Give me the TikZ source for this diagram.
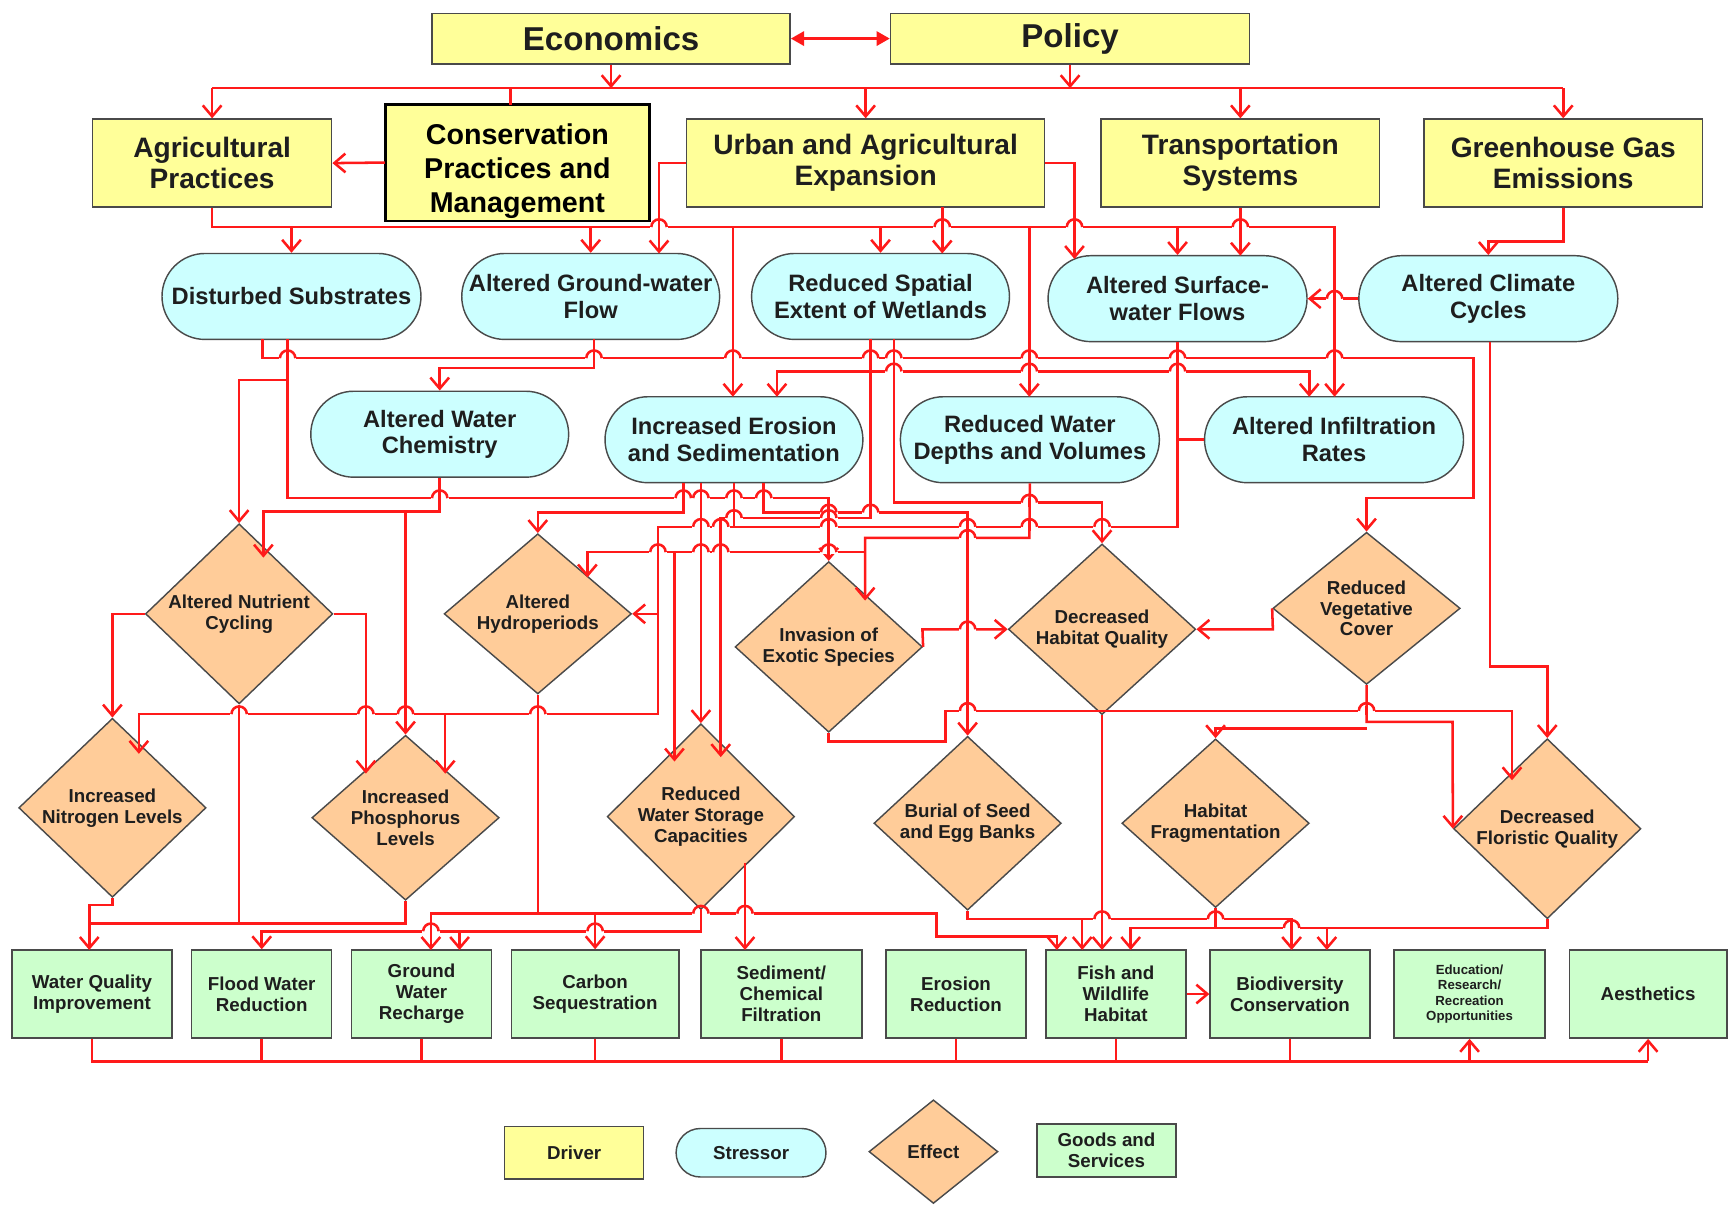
\documentclass[tikz,border=0pt]{standalone}
\usepackage{fontspec}
\setmainfont{Liberation Sans}
\usetikzlibrary{arrows.meta,shapes.geometric}
\definecolor{drv}{HTML}{FFFF99}
\definecolor{stc}{HTML}{CCFFFF}
\definecolor{eff}{HTML}{FFCC99}
\definecolor{gds}{HTML}{CCFFCC}
\definecolor{wirered}{HTML}{FF1A1A}
\definecolor{txt}{HTML}{1E1E1E}
\definecolor{bord}{HTML}{4A4A4A}
\newcommand\fsz[2]{\fontsize{#1}{#2}\selectfont}
\newcommand\jmp[2]{%
  \fill[white] ({#1-8},{#2-2}) rectangle ({#1+8},{#2+2});
  \draw[wire] (#1,{#2-4}) -- (#1,{#2+4});
  \draw[wire] ({#1-7},#2) arc[start angle=180,end angle=0,radius=7pt];
}
\tikzset{
  wire/.style={draw=wirered, line width=2.3pt, line join=miter},
  arr/.style={wire, -{Straight Barb[length=10pt,width=17pt,line width=2.3pt]}},
  base/.style={draw=bord, line width=1.3pt, inner sep=0pt, align=center, text=txt},
  driverbox/.style={base, fill=drv, font=\bfseries\fsz{25.5}{28}},
  stressbox/.style={base, fill=stc, rounded corners=39pt, minimum height=78pt, font=\bfseries\fsz{21.5}{24}},
  effectbox/.style={base, fill=eff, diamond, minimum width=170pt, minimum height=138pt, font=\bfseries\fsz{17}{19}},
  goodsbox/.style={base, fill=gds, minimum height=80pt, font=\bfseries\fsz{17}{19}},
}
\begin{document}
\begin{tikzpicture}[x=1pt,y=-1pt]
\useasboundingbox (0,0) rectangle (1568,1093);
\fill[white] (0,0) rectangle (1568,1093);

% ---------------- drivers
\node[driverbox, font=\bfseries\fsz{30}{32}, minimum width=325pt, minimum height=46pt] (econ) at (554.5,35) {Economics};
\node[driverbox, font=\bfseries\fsz{30}{32}, minimum width=326pt, minimum height=46pt] (policy) at (971,35) {Policy};
\node[driverbox, minimum width=217pt, minimum height=80pt] (agri) at (192.5,148) {Agricultural\\Practices};
\node[draw=black, line width=1.6pt, fill=drv, inner sep=0pt, minimum width=239pt, minimum height=105pt] (cons) at (469.5,147.5) {};
\begin{scope}
\clip (cons.south west) rectangle (cons.north east);
\node[align=center, text=black, font=\bfseries\fsz{26}{31}] (constext) at (469.5,155) {Conservation\\Practices and\\Management};
\end{scope}
\draw[draw=black, line width=1.6pt] (cons.south west) rectangle (cons.north east);
\node[driverbox, minimum width=325pt, minimum height=80pt] (urban) at (785.5,148) {Urban and Agricultural\\Expansion};
\node[driverbox, minimum width=253pt, minimum height=80pt] (trans) at (1125.5,148) {Transportation\\Systems};
\node[driverbox, minimum width=253pt, minimum height=80pt] (ghg) at (1418.5,148) {Greenhouse Gas\\Emissions};

% ---------------- stressors
\node[stressbox, minimum width=235pt] (dist) at (264.5,269) {Disturbed Substrates};
\node[stressbox, minimum width=234pt] (agw) at (536,269) {Altered Ground-water\\Flow};
\node[stressbox, minimum width=234pt] (rse) at (799,269) {Reduced Spatial\\Extent of Wetlands};
\node[stressbox, minimum width=235pt] (asw) at (1068.5,271) {Altered Surface-\\water Flows};
\node[stressbox, minimum width=235pt] (acc) at (1350.5,271) {Altered Climate\\Cycles};
\node[stressbox, minimum width=234pt] (awc) at (399,394) {Altered Water\\Chemistry};
\node[stressbox, minimum width=234pt] (ies) at (666,399) {Increased Erosion\\and Sedimentation};
\node[stressbox, minimum width=235pt] (rwd) at (934.5,399) {Reduced Water\\Depths and Volumes};
\node[stressbox, minimum width=235pt] (air) at (1210.5,399) {Altered Infiltration\\Rates};

% ---------------- effects
\node[effectbox] (anc) at (217,557) {Altered Nutrient\\Cycling};
\node[effectbox] (ahp) at (488,557) {Altered\\Hydroperiods};
\node[effectbox] (inv) at (752,587) {Invasion of\\Exotic Species};
\node[effectbox] (dhq) at (1000,571) {Decreased\\Habitat Quality};
\node[effectbox] (rvc) at (1240,552) {Reduced\\Vegetative\\Cover};
\node[effectbox] (inl) at (102,733) {Increased\\Nitrogen Levels};
\node[effectbox] (ipl) at (368,742) {Increased\\Phosphorus\\Levels};
\node[effectbox] (rws) at (636,741) {Reduced\\Water Storage\\Capacities};
\node[effectbox] (bse) at (878,747) {Burial of Seed\\and Egg Banks};
\node[effectbox] (hfr) at (1103,747) {Habitat\\Fragmentation};
\node[effectbox] (dfq) at (1404,752) {Decreased\\Floristic Quality};

% ---------------- goods and services
\node[goodsbox, minimum width=145pt] (wqi) at (83.5,902) {Water Quality\\Improvement};
\node[goodsbox, minimum width=127pt] (fwr) at (237.5,902) {Flood Water\\Reduction};
\node[goodsbox, minimum width=127pt] (gwr) at (382.5,902) {Ground\\Water\\Recharge};
\node[goodsbox, minimum width=152pt] (csq) at (540,902) {Carbon\\Sequestration};
\node[goodsbox, minimum width=146pt] (scf) at (709,902) {Sediment/\\Chemical\\Filtration};
\node[goodsbox, minimum width=127pt] (ero) at (867.5,902) {Erosion\\Reduction};
\node[goodsbox, minimum width=127pt] (fwh) at (1012.5,902) {Fish and\\Wildlife\\Habitat};
\node[goodsbox, minimum width=145pt] (bio) at (1170.5,902) {Biodiversity\\Conservation};
\node[goodsbox, minimum width=137pt, font=\bfseries\fsz{12}{14}] (edu) at (1333.5,902) {Education/\\Research/\\Recreation\\Opportunities};
\node[goodsbox, minimum width=143pt] (aes) at (1495.5,902) {Aesthetics};

% ---------------- legend
\node[driverbox, font=\bfseries\fsz{17}{19}, minimum width=126pt, minimum height=48pt] (lgd) at (521,1046) {Driver};
\node[stressbox, font=\bfseries\fsz{17}{19}, rounded corners=22pt, minimum width=136pt, minimum height=44pt] (lgs) at (681.5,1046) {Stressor};
\node[effectbox, minimum width=117pt, minimum height=94pt] (lge) at (847,1045) {Effect};
\node[goodsbox, minimum width=126pt, minimum height=48pt] (lgg) at (1004,1044) {Goods and\\Services};

% ================= connectors
% top level
\draw[wire, {Triangle[length=12pt,width=13pt]}-{Triangle[length=12pt,width=13pt]}] (econ.east) -- (policy.west);
\draw[arr] (econ.south) -- (554.5,80);
\draw[arr] (policy.south) -- (971,80);
\draw[wire] (192.5,80) -- (1418.5,80);
\draw[arr] (192.5,80) -- (agri.north);
\draw[arr] (785.5,80) -- (urban.north);
\draw[arr] (1125.5,80) -- (trans.north);
\draw[arr] (1418.5,80) -- (ghg.north);
\draw[wire] (463,80) -- (463,95);
\draw[arr] (cons.west) -- (agri.east);
\draw[arr] (urban.west) -- (598,148) -- (598,230);
\draw[arr] (agri.south) -- (192.5,206) -- (1211,206) -- (1211,360);
\draw[arr] (264.5,206) -- (dist.north);
\draw[arr] (536,206) -- (agw.north);
\draw[arr] (799,206) -- (rse.north);
\draw[arr] (1068.5,206) -- (asw.north);
\draw[arr] (665,206) -- (665,360);
\draw[arr] (934,206) -- (934,360);
\draw[arr] (855,188) -- (855,230);
\draw[arr] (urban.east) -- (975,148) -- (975,235);
\draw[arr] (trans.south) -- (1125.5,232);
\draw[arr] (ghg.south) -- (1418.5,219) -- (1350.5,219) -- (acc.north);
\draw[arr] (acc.west) -- (asw.east);
\draw[arr] (1352,310) -- (1352,605) -- (1404,605) -- (dfq.north);

% stressor level
\draw[arr] (238,308) -- (238,325) -- (1337,325) -- (1337,452) -- (1240,452) -- (rvc.north);
\draw[arr] (261,308) -- (261,452) -- (752,452) -- (inv.north);
\draw[arr] (261,345) -- (217,345) -- (anc.north);
\draw[arr] (539,308) -- (539,334) -- (399,334) -- (awc.north);
\draw[arr] (790,308) -- (790,470) -- (654,470) -- (654,687);
\draw[arr] (790,337) -- (705,337) -- (705,360);
\draw[arr] (790,337) -- (1188,337) -- (1188,360);
\draw[arr] (811,308) -- (811,456) -- (1000,456) -- (dhq.north);
\draw[arr] (awc.south) -- (399,464) -- (239,464) -- (239,506);
\draw[arr] (368,464) -- (ipl.north);
\draw[arr] (620,438) -- (620,465) -- (488,465) -- (ahp.north);
\draw[arr] (636,438) -- (rws.north);
\draw[wire] (666,438) -- (666,478);
\draw[arr] (693,438) -- (693,465) -- (878,465) -- (bse.north);
\draw[arr] (asw.south) -- (1068.5,478) -- (597,478) -- (597,648) -- (126,648) -- (126,684);
\draw[arr] (597,557) -- (ahp.east);
\draw[arr] (404,648) -- (404,702);
\draw[wire] (air.west) -- (1068.5,399);
\draw[arr] (rwd.south) -- (934,488) -- (785,488) -- (785,545);
\draw[arr] (785,501) -- (533,501) -- (533,524);
\draw[arr] (612,501) -- (612,691);
\draw[arr] (inv.east) -- (837,571) -- (dhq.west);
\draw[arr] (rvc.west) -- (1155,571) -- (dhq.east);
\draw[arr] (inv.south) -- (752,673) -- (858,673) -- (858,645) -- (1372,645) -- (1372,708);
\draw[arr] (rvc.south) -- (1240,655) -- (1318,655) -- (dfq.west);
\draw[arr] (1240,661) -- (1103,661) -- (hfr.north);
\draw[arr] (anc.west) -- (102,557) -- (inl.north);
\draw[arr] (anc.east) -- (332,557) -- (332,702);

% effects to goods
\draw[arr] (inl.south) -- (102,821) -- (81,821) -- (81,862);
\draw[wire] (anc.south) -- (217,838);
\draw[wire] (ipl.south) -- (368,838) -- (81,838);
\draw[arr] (ahp.south) -- (488,829) -- (391,829) -- (391,862);
\draw[arr] (488,829) -- (850,829) -- (850,850) -- (959,850) -- (959,862);
\draw[arr] (540,829) -- (csq.north);
\draw[arr] (rws.south) -- (636,845) -- (237.5,845) -- (fwr.north);
\draw[arr] (417,845) -- (417,862);
\draw[arr] (676,783) -- (676,862);
\draw[arr] (bse.south) -- (878,834) -- (1172,834) -- (1172,862);
\draw[arr] (982,834) -- (982,862);
\draw[arr] (dhq.south) -- (1000,862);
\draw[arr] (dfq.south) -- (1404,842) -- (1026,842) -- (1026,862);
\draw[arr] (1204,842) -- (1204,862);
\draw[wire] (hfr.south) -- (1103,842);
\draw[arr] (fwh.east) -- (bio.west);

% bottom bus
\draw[wire] (wqi.south) -- (83.5,963) -- (1495.5,963);
\foreach \n in {fwr,gwr,csq,scf,ero,fwh,bio} \draw[wire] (\n.south) -- (\n.south |- 0,963);
\draw[arr] (1333.5,963) -- (edu.south);
\draw[arr] (1495.5,963) -- (aes.south);

% line jumps
\foreach \a/\b in {598/206,855/206,975/206,1125.5/206,1211/271,
  261/325,539/325,665/325,790/325,811/325,934/325,1068.5/325,1211/325,
  811/337,934/337,1068.5/337,
  399/452,620/452,636/452,666/452,693/452,934/456,
  752/465,790/465,666/470,752/470,
  636/478,654/478,752/478,878/478,934/478,1000/478,878/488,
  752/501,654/501,636/501,597/501,878/571,
  488/648,368/648,332/648,217/648,878/645,1240/645,
  636/829,676/829,540/845,391/845,1000/834,1103/834,1172/842}
  {\jmp{\a}{\b}}
\end{tikzpicture}
\end{document}
